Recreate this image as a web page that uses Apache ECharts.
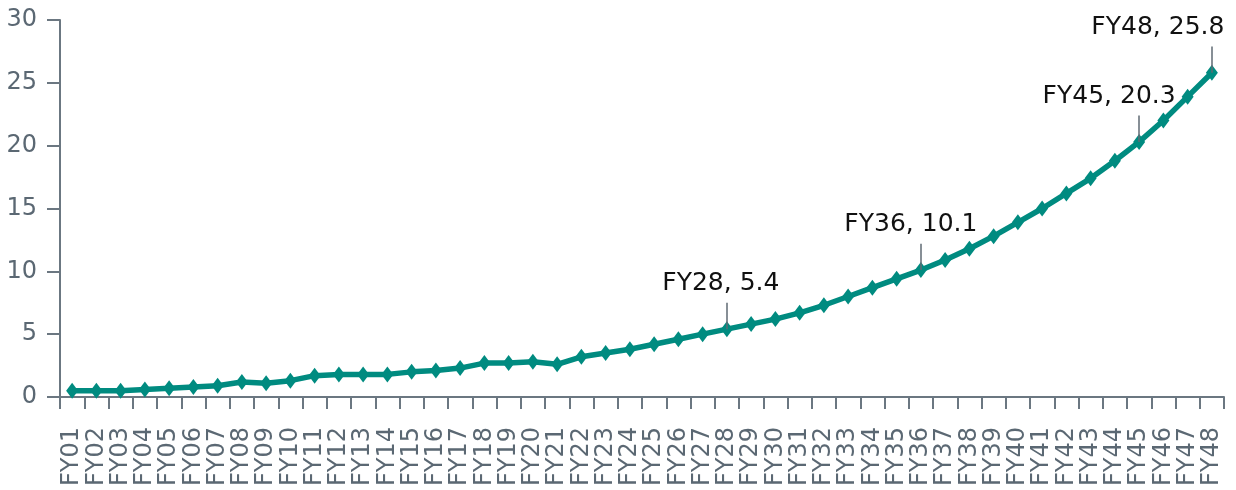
<!DOCTYPE html>
<html>
<head>
<meta charset="utf-8">
<script src="https://cdn.jsdelivr.net/npm/echarts@6/dist/echarts.min.js"></script>
<style>
  html, body { margin: 0; padding: 0; background: #fff; }
  #chart { width: 1236px; height: 490px; }
</style>
</head>
<body>
<div id="chart"></div>
<script>
// fiscal years FY01..FY48
const years = ['FY01','FY02','FY03','FY04','FY05','FY06','FY07','FY08','FY09','FY10',
  'FY11','FY12','FY13','FY14','FY15','FY16','FY17','FY18','FY19','FY20',
  'FY21','FY22','FY23','FY24','FY25','FY26','FY27','FY28','FY29','FY30',
  'FY31','FY32','FY33','FY34','FY35','FY36','FY37','FY38','FY39','FY40',
  'FY41','FY42','FY43','FY44','FY45','FY46','FY47','FY48']

const values = [0.5, 0.5, 0.5, 0.6, 0.7, 0.8, 0.9, 1.2, 1.1, 1.3,
  1.7, 1.8, 1.8, 1.8, 2.0, 2.1, 2.3, 2.7, 2.7, 2.8,
  2.6, 3.2, 3.5, 3.8, 4.2, 4.6, 5.0, 5.4, 5.8, 6.2,
  6.7, 7.3, 8.0, 8.7, 9.4, 10.1, 10.9, 11.8, 12.8, 13.9,
  15.0, 16.2, 17.4, 18.8, 20.3, 22.0, 23.9, 25.8]

// annotated years and how far the text is shifted left of the point
const calloutYears = ['FY28', 'FY36', 'FY45', 'FY48']
const calloutShift = [-6, -10, -30, -54]
// leader line length, in axis units
const LEADER = 2.1

const yTicks = [0, 5, 10, 15, 20, 25, 30]

const LINE_COLOR = '#008b80'
const AXIS_COLOR = '#6b7781'
const LABEL_COLOR = '#5b6873'

const chart = echarts.init(document.getElementById('chart'))

const seriesData = values.map((v, i) => {
  const k = calloutYears.indexOf(years[i])
  if (k < 0) return v
  return {
    value: v,
    label: {
      show: true,
      position: 'top',
      distance: 25,
      offset: [calloutShift[k], 0],
      formatter: years[i] + ', ' + v.toFixed(1),
      color: '#111',
      fontSize: 25,
      fontFamily: 'DejaVu Sans'
    }
  }
})

const leaderLines = calloutYears.map(y => {
  const v = values[years.indexOf(y)]
  return [{ coord: [y, v] }, { coord: [y, v + LEADER] }]
})

chart.setOption({
  animation: false,
  grid: { left: 60, right: 12, top: 20, bottom: 93 },
  xAxis: {
    type: 'category',
    data: years,
    boundaryGap: true,
    axisLine: { lineStyle: { color: AXIS_COLOR, width: 2 } },
    axisTick: { show: true, length: 12, lineStyle: { color: AXIS_COLOR, width: 2 } },
    axisLabel: {
      interval: 0,
      rotate: 90,
      margin: 30,
      color: LABEL_COLOR,
      fontSize: 24,
      fontFamily: 'DejaVu Sans'
    }
  },
  yAxis: {
    type: 'value',
    min: yTicks[0],
    max: yTicks[yTicks.length - 1],
    interval: 5,
    axisLine: { show: true, lineStyle: { color: AXIS_COLOR, width: 2 } },
    axisTick: { show: true, length: 13, lineStyle: { color: AXIS_COLOR, width: 2 } },
    splitLine: { show: false },
    axisLabel: {
      margin: 23,
      color: LABEL_COLOR,
      fontSize: 24,
      fontFamily: 'DejaVu Sans'
    }
  },
  series: [{
    type: 'line',
    data: seriesData,
    symbol: 'diamond',
    symbolSize: [12, 16],
    lineStyle: { color: LINE_COLOR, width: 5.5 },
    itemStyle: { color: LINE_COLOR },
    z: 3,
    markLine: {
      silent: true,
      symbol: 'none',
      label: { show: false },
      lineStyle: { color: '#5f6a73', width: 1.5, type: 'solid' },
      data: leaderLines,
      z: 5
    }
  }]
})
</script>
</body>
</html>
